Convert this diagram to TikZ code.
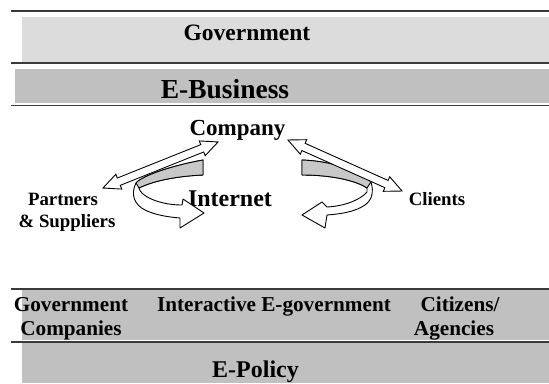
\documentclass[tikz,border=0pt]{standalone}
\usepackage{fontspec}
\setmainfont{Liberation Serif}
\usetikzlibrary{shapes.arrows}
\definecolor{bandlight}{HTML}{DCDCDC}
\definecolor{banddark}{HTML}{C0C0C0}
\definecolor{rulegray}{HTML}{3A3A3A}
\definecolor{ribbongray}{HTML}{C8C8C8}
\tikzset{
  rulebar/.style={draw=rulegray, line width=1.8pt},
  lbl/.style={anchor=base, inner sep=0pt, font=\bfseries},
  dblarrow/.style={double arrow, draw=black, fill=white, line width=0.9pt,
    minimum width=1pt, double arrow head extend=4pt, double arrow tip angle=50,
    inner xsep=0pt, inner ysep=3.5pt},
  ribbon/.style={draw=black, fill=white, line width=0.9pt, line join=round},
  ribbonback/.style={draw=black, fill=ribbongray, line width=0.9pt, line join=round}
}
\newcommand{\fsz}[1]{\fontsize{#1}{#1}\selectfont}
\begin{document}
\begin{tikzpicture}[x=1pt, y=-1pt]
\useasboundingbox (0,0) rectangle (549,383);
% bands
\fill[bandlight] (22,17) rectangle (549,62);
\fill[banddark] (15,69) rectangle (549,103);
\fill[banddark] (22,290) rectangle (549,340);
\fill[banddark] (22,343) rectangle (549,383);
% rules
\draw[rulebar] (11,11) -- (549,11);
\draw[rulebar] (11,63) -- (549,63);
\draw[rulebar] (11,105.5) -- (549,105.5);
\draw[rulebar] (11,289) -- (549,289);
\draw[rulebar] (11,342) -- (549,342);
% band titles
\node[lbl] (gov) at (247,40) {\fsz{23.5}Government};
\node[lbl] (ebus) at (225,98) {\fsz{27.5}E-Business};
% center texts
\node[lbl] (comp) at (237.5,135) {\fsz{23}Company};
\node[lbl] (inet) at (230,206) {\fsz{24}Internet};
\node[lbl] (part) at (63,205) {\fsz{18.8}Partners};
\node[lbl] (supp) at (67,227) {\fsz{18.8}\& Suppliers};
\node[lbl] (cli) at (437,205) {\fsz{18.8}Clients};
% curved ribbon arrows (left)
\draw[ribbon] (203,160) .. controls (175,165) and (143,175) .. (136,183)
  .. controls (130,195) and (135,205) .. (145,210)
  .. controls (155,215) and (168,217) .. (180,218)
  -- (180,228) -- (204,213) -- (183,199) -- (182,205)
  .. controls (165,205) and (150,200) .. (143,194)
  .. controls (140,191) and (139,189) .. (139,188)
  .. controls (155,180) and (180,176) .. (203,175) -- cycle;
\draw[ribbonback] (203,160) .. controls (175,165) and (143,175) .. (136,183)
  -- (139,188) .. controls (155,180) and (180,176) .. (203,175) -- cycle;
% curved ribbon arrows (right)
\draw[ribbon] (302,160) .. controls (330,161) and (360,170) .. (371,182)
  .. controls (374,192) and (372,200) .. (365,205)
  .. controls (355,212) and (340,214) .. (327,215)
  -- (325,228) -- (302,215) -- (322,202) -- (327,207)
  .. controls (345,206) and (360,200) .. (367,192) -- (367,188)
  .. controls (355,180) and (330,175) .. (302,175) -- cycle;
\draw[ribbonback] (302,160) .. controls (330,161) and (360,170) .. (371,182)
  -- (367,188) .. controls (355,180) and (330,175) .. (302,175) -- cycle;
% straight double arrows
\node[dblarrow, minimum height=124pt, rotate=21.8] (linkL) at (160.5,165) {};
\node[dblarrow, minimum height=125pt, rotate=-24.1] (linkR) at (345,165.5) {};
% bottom row
\node[lbl] (govc1) at (71,311) {\fsz{21.2}Government};
\node[lbl] (govc2) at (71,335) {\fsz{21.2}Companies};
\node[lbl] (inter) at (274,311) {\fsz{21.2}Interactive E-government};
\node[lbl] (citz) at (460,311) {\fsz{21.2}Citizens/};
\node[lbl] (agen) at (454,335) {\fsz{21.2}Agencies};
\node[lbl] (epol) at (255.5,377) {\fsz{24}E-Policy};
\end{tikzpicture}
\end{document}
